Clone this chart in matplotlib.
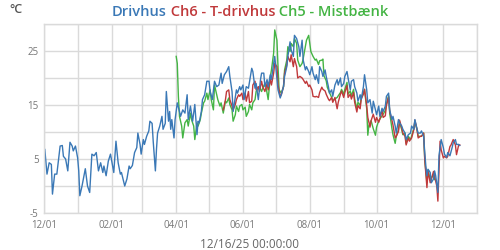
import matplotlib
matplotlib.use('Agg')
import matplotlib.pyplot as plt
import matplotlib.dates as mdates
import pandas as pd

# dage efter 2024-12-01 og temperatur (°C)
start = pd.Timestamp('2024-12-01')
slut = pd.Timestamp('2026-01-01')

drivhus_days = [0, 1, 3, 5, 7, 8, 10, 12, 15, 17, 18, 20, 22, 24, 26, 27, 29, 31, 32, 33,
                35, 38, 40, 42, 44, 46, 48, 50, 52, 54, 55, 57, 59, 61, 63, 64, 66, 68, 70, 71,
                74, 76, 78, 79, 81, 83, 85, 86, 88, 89, 91, 92, 94, 96, 97, 99, 100, 102, 103, 104,
                106, 108, 109, 111, 112, 114, 115, 116, 117, 119, 120, 122, 124, 125, 127, 129, 131, 132, 134, 136,
                138, 140, 141, 142, 144, 145, 147, 149, 151, 152, 154, 156, 158, 160, 162, 163, 165, 167, 169, 170,
                172, 173, 174, 176, 177, 179, 180, 182, 183, 185, 187, 190, 191, 193, 194, 196, 198, 199, 201, 202,
                204, 205, 207, 208, 210, 211, 213, 214, 216, 217, 219, 220, 222, 223, 225, 226, 228, 229, 231, 233,
                234, 236, 237, 239, 240, 242, 243, 245, 246, 248, 249, 251, 252, 254, 255, 257, 258, 260, 261, 263,
                264, 266, 268, 269, 271, 272, 274, 275, 277, 278, 280, 281, 283, 284, 286, 287, 289, 290, 292, 293,
                295, 296, 298, 300, 301, 303, 304, 306, 307, 309, 310, 312, 313, 315, 316, 318, 319, 321, 322, 324,
                325, 327, 328, 330, 331, 333, 335, 336, 338, 339, 341, 342, 344, 345, 347, 348, 349, 350, 351, 353,
                354, 356, 357, 358, 360, 361, 363, 365, 366, 368, 369, 371, 373, 374, 376, 377, 379, 380]
drivhus_temp = [7.0, 6.8, 2.2, 4.3, 4.0, -1.5, 2.2, 2.2, 7.4, 7.5, 5.5, 5.0, 2.8, 8.1, 7.4, 6.5, 7.4, 5.2, 2.8, -1.8,
                0.0, 3.2, 0.0, -1.2, 5.9, 5.6, 6.2, 2.8, 4.3, 2.5, 3.7, 1.9, 4.6, 5.9, 3.7, 2.5, 8.3, 4.3, 2.2, 2.5,
                0.0, 1.3, 3.7, 3.2, 3.8, 6.2, 7.1, 9.8, 7.7, 5.9, 8.6, 7.7, 9.2, 10.2, 12.0, 11.6, 8.3, 2.8, 6.8, 9.8,
                11.1, 12.9, 10.5, 11.6, 17.5, 12.0, 13.8, 10.5, 12.3, 8.9, 12.3, 15.4, 13.8, 12.9, 14.1, 13.5, 16.9, 12.3, 14.8, 12.0,
                15.1, 9.5, 12.0, 11.7, 13.8, 16.0, 16.9, 19.4, 19.4, 17.5, 16.0, 19.4, 18.4, 18.7, 20.9, 19.0, 20.6, 21.2, 22.1, 20.3,
                17.5, 13.8, 15.1, 17.8, 17.2, 18.4, 17.8, 18.7, 16.0, 18.4, 18.1, 21.8, 21.2, 18.1, 19.0, 16.0, 19.7, 20.9, 20.9, 18.4,
                19.7, 18.4, 20.6, 19.7, 22.7, 24.0, 20.0, 17.8, 16.3, 16.9, 18.4, 20.3, 22.1, 24.0, 26.7, 25.2, 24.0, 27.9, 27.3, 25.8,
                24.0, 27.0, 23.3, 21.5, 22.1, 21.2, 20.6, 22.1, 20.9, 19.7, 20.6, 19.0, 22.1, 21.2, 20.3, 21.5, 20.3, 18.4, 17.2, 17.8,
                16.6, 18.7, 19.7, 18.7, 20.0, 18.4, 19.0, 20.3, 21.2, 20.0, 17.8, 19.4, 19.7, 18.4, 17.2, 15.7, 16.9, 16.0, 18.4, 20.6,
                17.8, 15.4, 16.0, 13.5, 15.7, 14.1, 13.2, 14.8, 12.9, 14.4, 13.8, 14.8, 16.6, 17.2, 14.1, 12.3, 12.9, 11.1, 9.8, 12.3,
                11.7, 11.1, 10.5, 9.8, 8.6, 9.5, 9.8, 11.1, 10.5, 12.3, 10.5, 9.8, 9.8, 10.2, 9.2, 6.2, 3.7, 1.9, 3.1, 2.5,
                0.6, 1.3, 2.8, 1.9, -1.2, 5.6, 8.6, 7.1, 5.9, 5.3, 6.2, 5.6, 7.1, 8.0, 8.6, 7.7, 7.7, 7.5]

tdrivhus_days = [164, 166, 167, 169, 170, 172, 173, 175, 176, 178, 179, 181, 182, 184, 185, 187, 188, 190, 191, 193,
                 194, 196, 197, 199, 200, 202, 204, 205, 207, 208, 210, 211, 213, 214, 216, 217, 219, 220, 222, 223,
                 225, 226, 228, 229, 231, 232, 234, 236, 237, 239, 240, 242, 243, 245, 246, 248, 249, 251, 252, 254,
                 255, 257, 258, 260, 261, 263, 264, 266, 268, 269, 271, 272, 274, 275, 277, 278, 280, 281, 283, 284,
                 286, 287, 289, 290, 292, 293, 295, 296, 298, 299, 301, 303, 304, 306, 307, 309, 310, 312, 313, 315,
                 316, 318, 319, 321, 322, 324, 325, 327, 328, 330, 331, 333, 334, 336, 338, 339, 341, 342, 344, 345,
                 347, 348, 350, 351, 353, 354, 356, 357, 359, 360, 362, 363, 365, 366, 368, 369, 371, 372, 374, 376,
                 377, 379, 380]
tdrivhus_temp = [14.1, 16.0, 17.5, 17.8, 16.0, 14.8, 14.1, 15.1, 16.0, 16.9, 16.6, 17.2, 16.0, 17.2, 15.7, 17.5, 15.4, 15.7, 18.7, 19.4,
                 17.8, 18.4, 17.5, 19.4, 18.4, 17.5, 19.0, 17.8, 19.7, 18.7, 20.9, 22.7, 22.1, 18.7, 16.6, 16.9, 18.4, 20.9, 22.4, 24.0,
                 23.0, 24.3, 22.1, 23.6, 22.1, 20.0, 20.3, 20.0, 19.7, 19.0, 19.4, 18.4, 18.7, 17.8, 16.6, 16.5, 16.6, 16.4, 17.3, 18.3,
                 17.9, 17.6, 17.0, 16.1, 15.8, 16.4, 15.5, 16.4, 14.3, 15.5, 17.0, 17.6, 16.4, 17.3, 18.6, 16.4, 17.0, 16.1, 17.3, 15.5,
                 13.7, 14.9, 14.3, 16.1, 17.0, 17.9, 14.9, 12.7, 10.9, 12.1, 13.3, 11.8, 12.7, 11.8, 12.4, 14.0, 12.7, 13.0, 14.9, 16.5,
                 13.8, 12.2, 11.3, 8.9, 9.2, 10.1, 12.2, 10.7, 9.8, 9.2, 7.6, 8.9, 8.3, 8.9, 10.4, 12.2, 10.4, 8.9, 9.2, 9.2,
                 9.8, 4.9, -0.3, 2.7, 0.6, 1.2, 2.7, 1.8, 0.0, -2.8, 8.3, 6.7, 5.2, 5.5, 5.2, 5.5, 7.3, 7.6, 8.6, 7.6,
                 5.8, 7.6, 7.6]

mistbaenk_days = [121, 122, 123, 124, 126, 127, 129, 131, 132, 134, 135, 137, 138, 140, 141, 143, 144, 146, 147, 149,
                  150, 152, 153, 155, 156, 158, 159, 161, 162, 164, 166, 167, 169, 170, 172, 173, 175, 176, 178, 179,
                  181, 182, 184, 185, 187, 188, 190, 191, 193, 194, 196, 197, 199, 200, 202, 203, 205, 207, 208, 210,
                  211, 213, 214, 215, 217, 219, 220, 222, 223, 225, 226, 228, 229, 231, 232, 234, 236, 237, 239, 240,
                  242, 244, 246, 248, 249, 251, 252, 254, 255, 256, 258, 259, 261, 263, 264, 266, 268, 269, 271, 272,
                  274, 275, 277, 278, 280, 281, 283, 284, 286, 287, 289, 290, 292, 293, 295, 296, 297, 299, 301, 303,
                  304, 306, 308, 310, 312, 313, 315, 316, 318, 319, 321, 322, 324, 325, 327, 328, 330, 331, 333, 335,
                  336, 338, 339, 341, 342, 344, 345, 347, 348, 350, 351, 353, 354, 356, 357]
mistbaenk_temp = [24.0, 22.7, 16.6, 12.9, 11.1, 8.9, 11.7, 12.3, 11.1, 13.5, 12.3, 11.1, 8.6, 11.7, 11.1, 12.3, 13.5, 15.4, 15.7, 17.2,
                  16.0, 17.8, 16.0, 14.1, 18.7, 16.9, 16.0, 14.8, 15.4, 13.5, 15.7, 15.4, 16.3, 15.1, 14.1, 12.0, 13.2, 14.8, 13.8, 14.8,
                  15.1, 14.1, 14.6, 12.9, 13.8, 15.1, 14.1, 15.4, 16.0, 17.5, 18.1, 18.4, 17.5, 18.1, 19.0, 18.4, 16.0, 20.3, 21.5, 24.6,
                  28.9, 27.0, 22.1, 17.8, 17.2, 18.4, 21.5, 23.3, 25.8, 24.9, 26.4, 25.8, 27.3, 26.4, 23.3, 22.1, 22.7, 23.6, 25.8, 27.0,
                  27.9, 24.9, 24.0, 23.3, 23.5, 22.5, 23.2, 23.3, 23.5, 20.4, 19.5, 18.3, 17.3, 16.4, 15.8, 16.1, 16.4, 16.7, 17.3, 17.9,
                  17.0, 17.9, 19.2, 17.0, 17.6, 16.7, 17.9, 16.1, 14.3, 15.5, 14.9, 16.4, 17.3, 17.9, 14.3, 9.4, 11.2, 12.1, 10.6, 9.4,
                  10.9, 12.1, 12.7, 13.3, 14.0, 15.2, 16.7, 13.5, 10.7, 9.5, 7.9, 9.2, 10.4, 11.9, 10.4, 9.5, 9.8, 7.9, 9.2, 8.6,
                  9.2, 10.7, 11.9, 10.4, 9.2, 9.2, 9.2, 9.8, 4.9, 0.6, 3.0, 1.2, 1.5, 2.1, 1.2]

blue = '#3a78b6'
red = '#c0393b'
green = '#44b444'
grey = '#dadada'


def to_dates(days):
    return start + pd.to_timedelta(days, unit='D')


plt.rcParams['font.family'] = ['Open Sans', 'DejaVu Sans']

fig = plt.figure(figsize=(5, 2.5), dpi=100)
ax = fig.add_axes([0.0874, 0.148, 0.8672, 0.756])

ax.plot(to_dates(mistbaenk_days), mistbaenk_temp, color=green, lw=1.0)
ax.plot(to_dates(tdrivhus_days), tdrivhus_temp, color=red, lw=1.0)
ax.plot(to_dates(drivhus_days), drivhus_temp, color=blue, lw=1.0)

ax.set_xlim(start, slut)
ax.set_ylim(-5, 30)
ax.set_yticks(range(-5, 31, 5))
ax.set_yticklabels(['-5', '', '5', '', '15', '', '25', ''])
ax.xaxis.set_major_locator(mdates.MonthLocator(bymonth=[12, 2, 4, 6, 8, 10]))
ax.xaxis.set_major_formatter(mdates.DateFormatter('%m/%d'))
ax.xaxis.set_minor_locator(mdates.MonthLocator())
ax.grid(True, which='both', color=grey, lw=1.0)
ax.set_axisbelow(True)
for sp in ax.spines.values():
    sp.set_color(grey)
    sp.set_linewidth(1.0)
ax.tick_params(which='both', length=0, labelsize=7, colors='#777777')
ax.tick_params(axis='x', pad=5)
ax.tick_params(axis='y', pad=3.5)

# titel i tre farver
parts = [('Drivhus', blue), (' Ch6 - T-drivhus', red), (' Ch5 - Mistbænk', green)]
texts = [fig.text(0, 0.936, s, color=c, fontsize=10.5, fontweight='semibold', va='baseline')
         for s, c in parts]
fig.canvas.draw()
r = fig.canvas.get_renderer()
widths = [t.get_window_extent(r).width for t in texts]
x = (fig.bbox.width - sum(widths)) / 2
for t, w in zip(texts, widths):
    t.set_x(x / fig.bbox.width)
    x += w

fig.text(0.032, 0.947, '°C', color='#555555', fontsize=9, fontweight='semibold', ha='center', va='baseline')
fig.text(0.5, 0.007, '12/16/25 00:00:00', color='#666666', fontsize=8.5, ha='center', va='baseline')

fig.savefig('out.png', dpi=100)
